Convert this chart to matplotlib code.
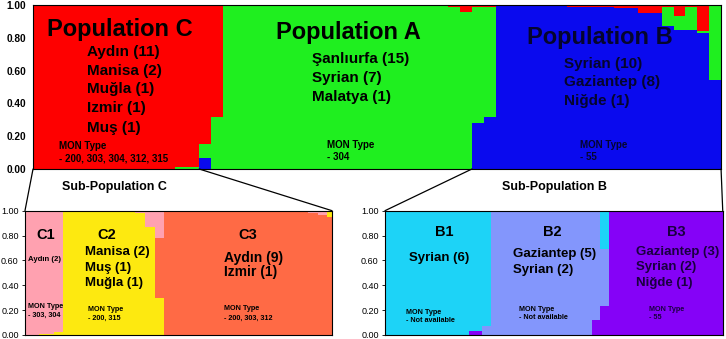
import numpy as np
import matplotlib.pyplot as plt
from matplotlib.patches import ConnectionPatch

plt.rcParams['font.family'] = ['Liberation Sans', 'DejaVu Sans']

# top plot, K=3 : runs of individuals (count, then Q per cluster)
top_counts = [12, 2, 1, 1, 19, 1, 1, 1, 1, 6, 4, 2, 2, 1, 1, 1, 1, 1]
top_blue = [0, 0, .07, 0, 0, 0, 0, .28, .32, 1, .99, .98, .95, .87, .85, .85, .83, .54]
top_green = [0, .01, .08, .32, 1, .99, .96, .71, .67, 0, 0, 0, 0, .12, .08, .14, .01, .46]
top_red = [1, .99, .85, .68, 0, .01, .04, .01, .01, 0, .01, .02, .05, .01, .07, .01, .16, 0]

# sub-population C
subc_counts = [3, 3, 2, 15, 2, 2, 2, 30, 2, 2, 1]
subc_yellow = [0, .01, .025, 1, .98, .87, .30, 0, 0, 0, 0]
subc_orange = [0, 0, 0, 0, 0, 0, .48, 1, .985, .965, .95]
subc_pink = [1, .99, .975, 0, .02, .13, .22, 0, .015, .035, 0]
subc_yellow_top = [0, 0, 0, 0, 0, 0, 0, 0, 0, 0, .05]

# sub-population B
subb_counts = [20, 3, 2, 24, 2, 2, 15, 12]
subb_purple = [0, .03, 0, 0, .12, .23, 1, .995]
subb_peri = [0, 0, .07, 1, .88, .46, 0, .005]
subb_cyan = [1, .97, .93, 0, 0, .31, 0, 0]


def structure_plot(ax, counts, layers):
    n = sum(counts)
    x = np.arange(n)
    bottom = np.zeros(n)
    for vals, col in layers:
        h = np.repeat(vals, counts)
        ax.bar(x, h, width=1, bottom=bottom, align='edge', color=col, linewidth=0)
        bottom = bottom + h
    ax.set_xlim(0, n)
    ax.set_ylim(0, 1)
    ax.set_xticks([])
    ax.set_yticks([0, .2, .4, .6, .8, 1])
    ax.set_yticklabels(['%.2f' % v for v in [0, .2, .4, .6, .8, 1]])
    for s in ax.spines.values():
        s.set_linewidth(0.8)
    return n


fig = plt.figure(figsize=(7.26, 3.39), dpi=100)
ax_top = fig.add_axes([0.0455, 0.5015, 0.9477, 0.4838])
ax_c = fig.add_axes([0.0344, 0.0118, 0.4229, 0.3667])
ax_b = fig.add_axes([0.5303, 0.0118, 0.4652, 0.3667])

n_top = structure_plot(ax_top, top_counts, [(top_blue, '#0a0aee'), (top_green, '#1fef1f'), (top_red, '#fe0000')])
n_c = structure_plot(ax_c, subc_counts, [(subc_yellow, '#fde910'), (subc_orange, '#ff6a45'),
                                          (subc_pink, '#ffa1b0'), (subc_yellow_top, '#fde910')])
n_b = structure_plot(ax_b, subb_counts, [(subb_purple, '#8502f7'), (subb_peri, '#8396fc'), (subb_cyan, '#1dd3f7')])

ax_top.tick_params(axis='y', length=0, pad=5)
for lab in ax_top.get_yticklabels():
    lab.set_fontweight('bold')
    lab.set_fontsize(7.3)
for a in (ax_c, ax_b):
    a.tick_params(axis='y', length=2.5, width=0.6, pad=2, labelsize=6.5)


def block(ax, title, tsize, tx, ty, lines, lsize, lx, ly, mon, msize, mx, my, color='black'):
    ax.text(tx, ty, title, fontsize=tsize, fontweight='bold', ha='center', va='center', color=color)
    for s, y in zip(lines, ly):
        ax.text(lx, y, s, fontsize=lsize, fontweight='bold', ha='left', va='center', color=color)
    ax.text(mx, my[0], 'MON Type', fontsize=msize, fontweight='bold', ha='left', va='center', color=color)
    ax.text(mx, my[1], mon, fontsize=msize, fontweight='bold', ha='left', va='center', color=color)


block(ax_top, 'Population C', 17, 7.34, .85, ['Aydın (11)', 'Manisa (2)', 'Muğla (1)', 'Izmir (1)', 'Muş (1)'],
      11, 4.55, [.713, .598, .488, .372, .25], '- 200, 303, 304, 312, 315', 7, 2.19, [.14, .061])
block(ax_top, 'Population A', 17, 26.6, .835, ['Şanlıurfa (15)', 'Syrian (7)', 'Malatya (1)'],
      11, 23.5, [.67, .555, .439], '- 304', 7, 24.8, [.146, .073])
block(ax_top, 'Population B', 17, 47.8, .80, ['Syrian (10)', 'Gaziantep (8)', 'Niğde (1)'],
      11, 44.8, [.64, .53, .415], '- 55', 7, 46.1, [.146, .073], color='#05052e')

block(ax_c, 'C1', 10.5, 4.38, .805, ['Aydın (2)'], 5.6, 0.63, [.61], '- 303, 304', 5.2, 0.63, [.233, .161])
block(ax_c, 'C2', 10.5, 17.1, .805, ['Manisa (2)', 'Muş (1)', 'Muğla (1)'], 9.5, 12.5, [.668, .539, .418],
      '- 200, 315', 5.2, 13.1, [.209, .137])
block(ax_c, 'C3', 10.5, 46.5, .805, ['Aydın (9)', 'Izmir (1)'], 10, 41.5, [.62, .507],
      '- 200, 303, 312', 5.2, 41.5, [.217, .137])

block(ax_b, 'B1', 10.5, 14.0, .829, ['Syrian (6)'], 9.5, 5.7, [.62], '- Not available', 5.2, 5.0, [.185, .113])
block(ax_b, 'B2', 10.5, 39.6, .829, ['Gaziantep (5)', 'Syrian (2)'], 9.5, 30.3, [.652, .523],
      '- Not available', 5.2, 31.7, [.209, .137])
block(ax_b, 'B3', 10.5, 68.9, .829, ['Gaziantep (3)', 'Syrian (2)', 'Niğde (1)'], 9.5, 59.5, [.668, .547, .418],
      '- 55', 5.2, 62.5, [.209, .137], color='#1a0040')

fig.text(0.158, 0.448, 'Sub-Population C', fontsize=9, fontweight='bold', ha='center', va='center')
fig.text(0.764, 0.448, 'Sub-Population B', fontsize=9, fontweight='bold', ha='center', va='center')

# zoom connectors
for (xa, axb, xb) in [(0, ax_c, 0), (14, ax_c, n_c), (37, ax_b, 0), (n_top, ax_b, n_b)]:
    con = ConnectionPatch(xyA=(xa, 0), coordsA=ax_top.transData, xyB=(xb, 1), coordsB=axb.transData,
                          color='black', linewidth=0.9)
    fig.add_artist(con)

fig.savefig('out.png', dpi=100, facecolor='w')
